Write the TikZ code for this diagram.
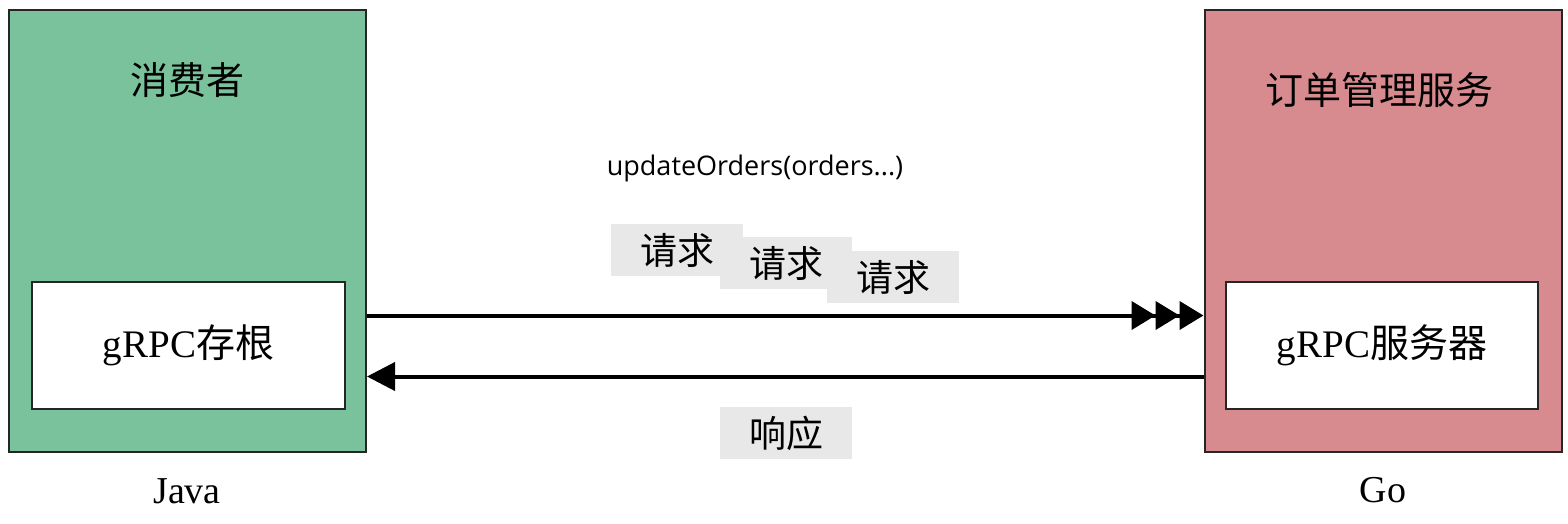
\documentclass[tikz,border=0pt]{standalone}
\usepackage{fontspec}
\setmainfont{Liberation Serif}
\newfontfamily\cjk{Noto Sans CJK SC}
\newfontfamily\uisans{Open Sans}
\usetikzlibrary{arrows.meta}
\definecolor{javagreen}{RGB}{122,194,156}
\definecolor{gopink}{RGB}{215,139,142}
\definecolor{msggray}{RGB}{232,232,232}
\tikzset{
	outerbox/.style={draw=black!85, line width=2pt, minimum width=357, minimum height=442, inner sep=0pt},
	stubbox/.style={draw=black!85, fill=white, line width=2pt, minimum height=127, inner sep=0pt,
		font=\fontsize{39}{46}\selectfont},
	title/.style={font=\cjk\fontsize{38}{44}\selectfont},
	lang/.style={font=\fontsize{38}{44}\selectfont},
	msg/.style={fill=msggray, minimum width=132, minimum height=52, inner sep=0pt,
		font=\cjk\fontsize{37}{42}\selectfont},
	wire/.style={line width=4pt}
}
\begin{document}
\begin{tikzpicture}[x=1pt, y=-1pt]
			%%%%% START %%%%%
			\useasboundingbox[fill=white] (0, 0) rectangle (1568, 523);
			
			\node[outerbox, fill=javagreen] (consumer) at (187.5, 231) {};
			\node[outerbox, fill=gopink] (server) at (1383, 231) {};
			
			\node[stubbox, minimum width=313] (stub) at (188.5, 345.5) {gRPC{\cjk 存根}};
			\node[stubbox, minimum width=312] (grpcserver) at (1382, 345.5) {gRPC{\cjk 服务器}};
			
			\node[title] (consumertitle) at (187, 80) {消费者};
			\node[title] (servertitle) at (1379, 90) {订单管理服务};
			
			\node[lang] (java) at (187, 491) {Java};
			\node[lang] (go) at (1383, 490) {Go};
			
			\node[font=\uisans\fontsize{27}{32}\selectfont] (call) at (755, 168) {updateOrders(orders...)};
			
			\node[msg] (req1) at (677, 250) {请求};
			\node[msg] (req2) at (786, 263) {请求};
			\node[msg] (req3) at (893, 277) {请求};
			\node[msg] (resp) at (786, 433) {响应};
			
			\draw[wire, -{Triangle[length=24, width=28]Triangle[length=24, width=28]Triangle[length=24, width=28]}]
				([yshift=30]stub.center -| consumer.east) -- ([yshift=30]grpcserver.center -| server.west);
			\draw[wire, -{Triangle[length=28, width=28]}]
				([yshift=-31]grpcserver.center -| server.west) -- ([yshift=-31]stub.center -| consumer.east);
			
			%%%%% END %%%%%
\end{tikzpicture}
\end{document}
